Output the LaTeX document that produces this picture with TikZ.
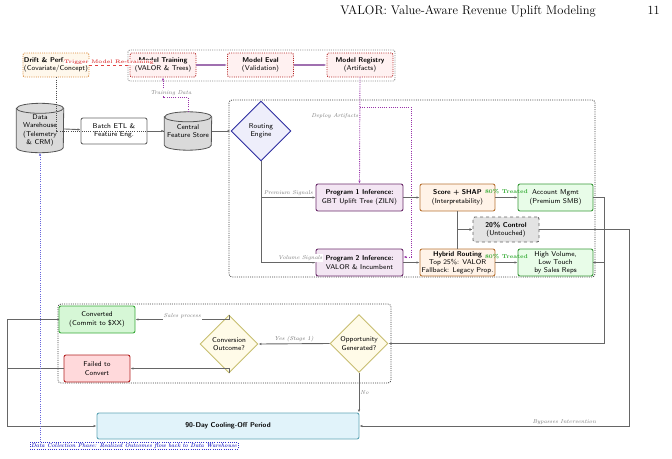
\documentclass[tikz,border=0pt]{standalone}
\usepackage{xcolor}
\usetikzlibrary{arrows.meta,shapes.geometric,backgrounds,calc}
\definecolor{driftc}{HTML}{D9893A}\definecolor{driftf}{HTML}{FFF8EC}
\definecolor{trainc}{HTML}{B22222}\definecolor{trainf}{HTML}{FFF1F1}
\definecolor{grpc}{HTML}{888888}
\definecolor{cyld}{HTML}{555555}\definecolor{cylf}{HTML}{DADADA}
\definecolor{routec}{HTML}{2C2CA0}\definecolor{routef}{HTML}{EEEEFB}
\definecolor{progc}{HTML}{6B2D6B}\definecolor{progf}{HTML}{F3E6F3}
\definecolor{scorec}{HTML}{B87333}\definecolor{scoref}{HTML}{FFF3E8}
\definecolor{accc}{HTML}{3A9A3A}\definecolor{accf}{HTML}{E8FCE8}
\definecolor{ctrlc}{HTML}{666666}\definecolor{ctrlf}{HTML}{E3E3E3}
\definecolor{cvc}{HTML}{3AAA3A}\definecolor{cvf}{HTML}{D6F7D6}
\definecolor{failc}{HTML}{B22222}\definecolor{failf}{HTML}{FFD9DB}
\definecolor{diac}{HTML}{C8BE70}\definecolor{diaf}{HTML}{FFFBE8}
\definecolor{coolc}{HTML}{5FA5B5}\definecolor{coolf}{HTML}{E1F3FA}
\definecolor{dcpc}{HTML}{3333CC}\definecolor{dcpl}{HTML}{6666DD}
\definecolor{plinec}{HTML}{A070B0}\definecolor{pdotc}{HTML}{9933AA}
\definecolor{trigc}{HTML}{E04040}\definecolor{greenl}{HTML}{33AA33}
\definecolor{edgec}{HTML}{666666}\definecolor{labc}{HTML}{777777}
\newcommand{\NodeFont}{\fontsize{7}{8.4}\selectfont\sffamily}
\newcommand{\LabFont}{\fontsize{5.6}{6.6}\selectfont\rmfamily\itshape}
\begin{document}
\begin{tikzpicture}[x=1pt,y=-1pt,
  every node/.style={font=\NodeFont, align=center},
  dots/.style={dash pattern=on 1pt off 1.2pt},
  box/.style={rectangle, rounded corners=2pt, line width=0.9pt, inner sep=1pt},
  topbox/.style={box, dots, minimum width=66, minimum height=24},
  midbox/.style={box, minimum height=27},
  dia/.style={diamond, aspect=1, draw=diac, fill=diaf, line width=0.9pt, minimum width=58, minimum height=58, inner sep=0pt},
  cylnode/.style={rectangle, minimum width=47, inner sep=0pt},
  edge/.style={draw=edgec, line width=0.9pt, -{Latex[length=3pt,width=2.4pt]}},
  plain/.style={draw=edgec, line width=0.9pt},
  pline/.style={draw=plinec, line width=1.2pt, -{Latex[length=3pt,width=2.4pt]}},
  pdot/.style={draw=pdotc, line width=0.9pt, dots, -{Latex[length=3pt,width=2.4pt]}},
  lab/.style={font=\LabFont, text=labc, inner sep=1pt},
  grlab/.style={font=\fontsize{5.6}{6.6}\selectfont\rmfamily\bfseries, text=greenl, inner sep=1pt},
  cont/.style={draw=black!75, line width=0.8pt, dots, rounded corners=3pt},
  hdr/.style={font=\fontsize{12.5}{14}\selectfont\rmfamily, inner sep=0pt}
]
\useasboundingbox (0,0) rectangle (672,458);

% header
\node[hdr, anchor=base east] (title) at (596,14) {VALOR: Value-Aware Revenue Uplift Modeling};
\node[hdr, anchor=base east] (pg) at (660,14) {11};

% top row
\node[topbox, draw=driftc, fill=driftf, align=left] (drift) at (56,65) {\textbf{Drift \& Perf.}\\(Covariate/Concept)};
\node[topbox, draw=trainc, fill=trainf] (train) at (163,65) {\textbf{Model Training}\\(VALOR \& Trees)};
\node[topbox, draw=trainc, fill=trainf] (eval) at (260.5,65) {\textbf{Model Eval}\\(Validation)};
\node[topbox, draw=trainc, fill=trainf] (reg) at (360,65) {\textbf{Model Registry}\\(Artifacts)};
\draw[draw=grpc, line width=0.9pt, dots, rounded corners=2pt] (128,50) rectangle (395,81);

% second row
\node[cylnode, minimum height=49] (dw) at (40,128) {\\[1pt]Data\\Warehouse\\(Telemetry\\\& CRM)};
\node[box, draw=edgec, fill=white, minimum width=66, minimum height=26] (etl) at (114,131) {Batch ETL \&\\Feature Eng.};
\node[cylnode, minimum height=38] (store) at (188,131) {\\[-3pt]Central\\Feature Store};
\node[diamond, aspect=1, draw=routec, fill=routef, line width=0.9pt, minimum width=60, minimum height=60, inner sep=0pt] (routing) at (261,131) {Routing\\Engine};

\begin{scope}[on background layer]
\foreach \n in {dw,store}{
  \path[draw=cyld, fill=cylf, line width=0.8pt] ([yshift=-5pt]\n.north west) -- ([yshift=5pt]\n.south west)
    arc[start angle=180, end angle=360, x radius=23.5pt, y radius=5pt] -- ([yshift=-5pt]\n.north east)
    arc[start angle=0, end angle=180, x radius=23.5pt, y radius=5pt] -- cycle;
  \draw[draw=cyld, line width=0.8pt] ([yshift=-5pt]\n.north west) arc[start angle=180, end angle=360, x radius=23.5pt, y radius=5pt];
}
\end{scope}

% routing container
\draw[cont] (229,100) rectangle (595,277);

\node[midbox, draw=progc, fill=progf, minimum width=87] (p1) at (359.5,197.5) {\textbf{Program 1 Inference:}\\GBT Uplift Tree (ZILN)};
\node[midbox, draw=progc, fill=progf, minimum width=87] (p2) at (359.5,262.5) {\textbf{Program 2 Inference:}\\VALOR \& Incumbent};
\node[midbox, draw=scorec, fill=scoref, minimum width=75] (score) at (457.5,197.5) {\textbf{Score + SHAP}\\(Interpretability)};
\node[midbox, draw=scorec, fill=scoref, minimum width=75, font=\fontsize{7}{7.9}\selectfont\sffamily] (hybrid) at (457.5,262.5) {\textbf{Hybrid Routing}\\Top 25\%: VALOR\\Fallback: Legacy Prop.};
\node[midbox, draw=accc, fill=accf, minimum width=75] (acc) at (555.5,197.5) {Account Mgmt\\(Premium SMB)};
\node[midbox, draw=accc, fill=accf, minimum width=75, font=\fontsize{7}{7.9}\selectfont\sffamily] (hv) at (555.5,262.5) {High Volume,\\Low Touch\\by Sales Reps};
\node[box, dashed, draw=ctrlc, fill=ctrlf, minimum width=66, minimum height=25] (ctrl) at (506,229.5) {\textbf{20\% Control}\\(Untouched)};

% bottom
\draw[cont] (58,304) rectangle (391,383);
\node[midbox, draw=cvc, fill=cvf, minimum width=76] (conv1) at (97,319.5) {Converted\\(Commit to \$XX)};
\node[midbox, draw=failc, fill=failf, minimum width=66] (fail) at (97,368.5) {Failed to\\Convert};
\node[dia] (cout) at (229,344) {Conversion\\Outcome?};
\node[dia] (opp) at (359,343.5) {Opportunity\\Generated?};
\node[box, draw=coolc, fill=coolf, minimum width=262, minimum height=26] (cool) at (228,426) {\textbf{90-Day Cooling-Off Period}};
\node[draw=dcpc, line width=0.8pt, dots, fill=white, inner sep=1pt, font=\fontsize{5.6}{6.6}\selectfont\rmfamily\bfseries\itshape, text=dcpc] (dcp) at (134,446) {Data Collection Phase: Realized Outcomes flow back to Data Warehouse};

% coordinates
\coordinate (td) at (175,97);
\coordinate (dj) at (360,107);
\coordinate (dk) at (411,257);
\coordinate (rx1) at (604,0);
\coordinate (rx2) at (629,0);
\coordinate (lx) at (7,0);

% connectors: top
\draw[pline] (train) -- (eval);
\draw[pline] (eval) -- (reg);
\draw[pdot] (store.north) |- (td) -| (train.south);
\node[lab, fill=white] (tdl) at (171,93) {Training Data};
\draw[draw=black!70, line width=0.7pt, dots] (drift.south) |- (store.west);
\draw[edge] (dw) -- (etl);
\draw[edge] (etl) -- (store);
\draw[edge] (store) -- (routing);
\draw[draw=trigc, line width=0.8pt, dashed, -{Latex[length=3pt,width=2.4pt]}] (drift) -- (train)
  node[midway, xshift=-0.5pt, yshift=2.5pt, font=\fontsize{5.1}{6}\selectfont\rmfamily\bfseries, text=trigc, fill=white, inner sep=0.6pt] {Trigger Model Re-training};

% deploy
\draw[pdot] (reg.south) -- (p1.north) node[pos=0.36, left, lab] {Deploy Artifacts};
\draw[pdot] (dj) -| (dk) -- (p2.east |- dk);

% routing
\draw[edge] (routing.south) |- (p1.west) node[pos=0.75, above, lab] {Premium Signals};
\draw[edge] (routing.south) |- (p2.west) node[pos=0.86, above=0.5pt, lab, fill=white] {Volume Signals};
\draw[edge] (p1) -- (score);
\draw[edge] (p2) -- (hybrid);
\draw[edge] (score) -- (acc) node[midway, above=2.5pt, grlab] {80\% Treated};
\draw[edge] (hybrid) -- (hv) node[midway, above=2.5pt, grlab] {80\% Treated};
\draw[edge] (score.south) |- (ctrl.west);
\draw[edge] (hybrid.north) |- (ctrl.west);

% outcomes
\draw[edge] (acc.east) -- (acc.east -| rx1) |- (opp.east);
\draw[plain] (hv.east) -- (hv.east -| rx1);
\draw[edge] (ctrl.east) -- (ctrl.east -| rx2) |- (cool.east) node[pos=0.62, above=-0.5pt, lab, fill=white] {Bypasses Intervention};
\draw[edge] (opp.west) -- (cout.east) node[midway, above, lab, text=black!60] {Yes (Stage 1)};
\draw[edge] (cout.north) |- (conv1.east) node[pos=0.75, above=-1pt, lab, fill=white] {Sales process};
\draw[edge] (cout.south) |- (fail.east);
\draw[edge] (opp.south) -- (opp.south |- cool.north) node[midway, right, lab] {No};
\draw[edge] (conv1.west) -- (conv1.west -| lx) |- (cool.west);
\draw[plain] (fail.west) -- (fail.west -| lx);
\draw[draw=dcpl, line width=0.9pt, dots, -{Latex[length=3pt,width=2.4pt]}] (dcp.north -| dw.south) -- (dw.south);
\end{tikzpicture}
\end{document}
